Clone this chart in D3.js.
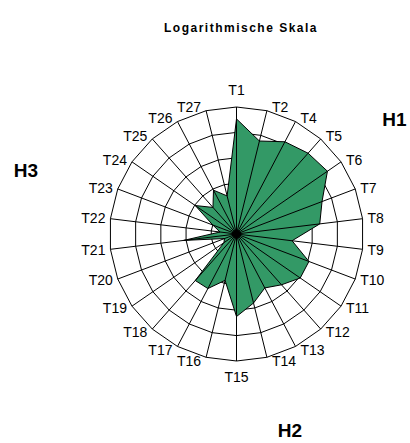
<!DOCTYPE html>
<html><head><meta charset="utf-8">
<script src="https://cdn.jsdelivr.net/npm/d3@7/dist/d3.min.js"></script>
<style>body{margin:0;background:#fff}svg{display:block}</style>
</head><body>
<svg id="c" width="410" height="443"></svg>
<script>
const categories = ["T1","T2","T4","T5","T6","T7","T8","T9","T10","T11","T12","T13","T14","T15","T16","T17","T18","T19","T20","T21","T22","T23","T24","T25","T26","T27"];
const values = [34000,5900,12600,17800,22400,4000,2000,160,1120,1120,470,250,630,1780,76,266,280,4,3.2,126,4.5,10,94,25,89,35];
const ringTicks = [1,10,100,1000,10000,100000];
const titleText = "Logarithmische Skala";
const groupLabels = ["H1","H2","H3"];

const W = 410, H = 443;
const cx = 236.5, cy = 234, R = 127;
const font = "Arial, 'Liberation Sans', sans-serif";
const svg = d3.select("#c");
svg.append("rect").attr("width",W).attr("height",H).attr("fill","#fff");

const n = categories.length;
const ang = d3.scaleLinear().domain([0,n]).range([0,2*Math.PI]);
const rad = d3.scaleLog().domain([ringTicks[0], ringTicks[ringTicks.length-1]]).range([0,R]);
const pt = (i, r) => [cx + r*Math.sin(ang(i)), cy - r*Math.cos(ang(i))];

const g = svg.append("g");
ringTicks.slice(1).forEach(t => {
  const r = rad(t);
  g.append("polygon")
   .attr("points", d3.range(n).map(i => pt(i,r).join(",")).join(" "))
   .attr("fill","none").attr("stroke","#000").attr("stroke-width",1);
});
g.append("polygon")
 .attr("points", values.map((v,i) => pt(i, rad(v)).join(",")).join(" "))
 .attr("fill","#339966").attr("stroke","#000").attr("stroke-width",1);
d3.range(n).forEach(i => {
  const p = pt(i,R);
  g.append("line").attr("x1",cx).attr("y1",cy).attr("x2",p[0]).attr("y2",p[1])
   .attr("stroke","#000").attr("stroke-width",1);
});
g.append("circle").attr("cx",cx).attr("cy",cy).attr("r",4).attr("fill","#000");

categories.forEach((c,i) => {
  const a = ang(i), s = Math.sin(a), co = Math.cos(a);
  const e = pt(i,R);
  const t = svg.append("text").text(c)
    .attr("font-family",font).attr("font-size",14).attr("fill","#000");
  let x, y, anchor;
  if (Math.abs(s) < 1e-6) {
    anchor = "middle"; x = e[0];
    y = co > 0 ? e[1] - 17 : e[1] + 16;
  } else {
    anchor = s > 0 ? "start" : "end";
    x = e[0] + (s > 0 ? 5 : -5);
    y = e[1] - co*4;
  }
  t.attr("x",x).attr("y",y+5).attr("text-anchor",anchor);
});

svg.append("text").text(titleText).attr("x",241).attr("y",32)
  .attr("text-anchor","middle").attr("font-family",font).attr("font-weight","bold")
  .attr("font-size",12).attr("letter-spacing",1.5);

const gpos = [[394.5,126],[290,437],[26,177]];
groupLabels.forEach((h,i) => {
  svg.append("text").text(h).attr("x",gpos[i][0]).attr("y",gpos[i][1])
    .attr("text-anchor","middle").attr("font-family",font).attr("font-weight","bold")
    .attr("font-size",19);
});
</script>
</body></html>
